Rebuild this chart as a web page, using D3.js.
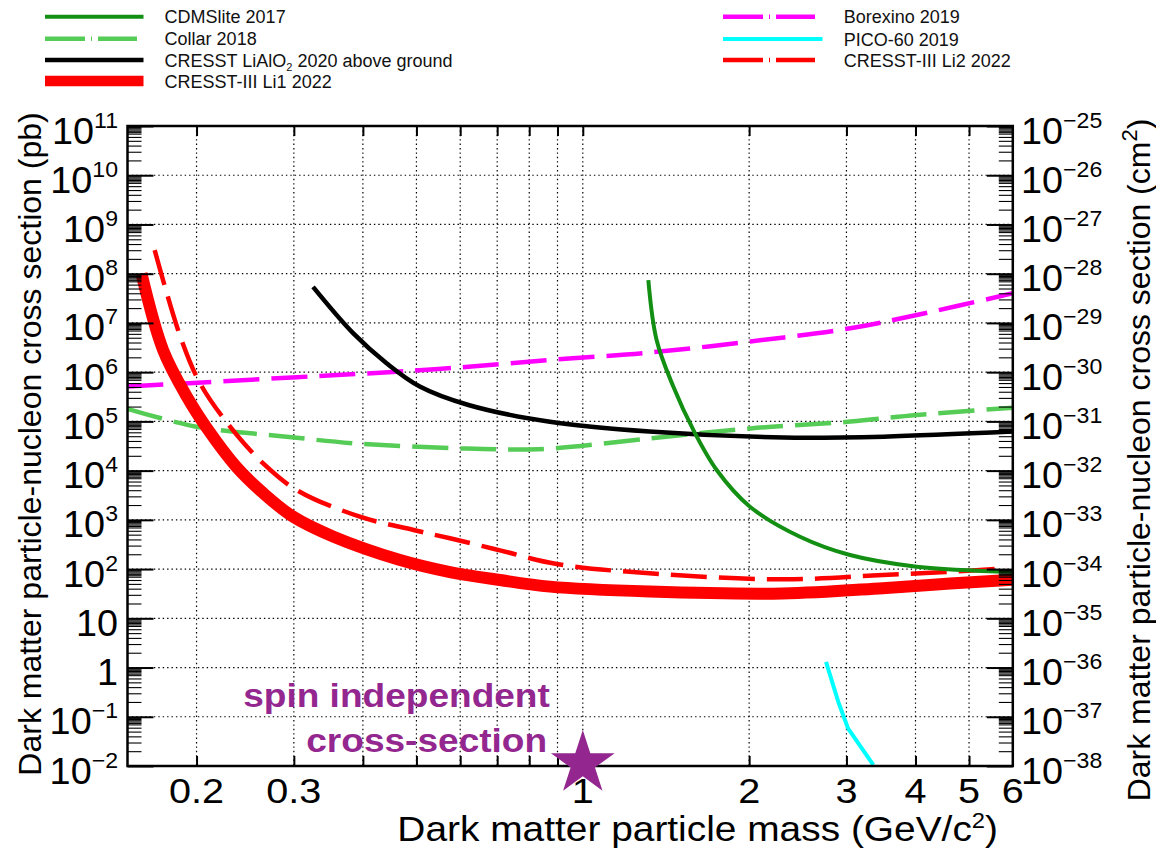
<!DOCTYPE html>
<html>
<head>
<meta charset="UTF-8">
<title>Dark matter cross section limits</title>
<script src="https://cdn.jsdelivr.net/npm/d3@7"></script>
<style>
  body { margin: 0; background: #fff; }
  svg { display: block; font-family: "Liberation Sans", Arial, Helvetica, sans-serif; }
</style>
</head>
<body>
<svg id="chart" width="1156" height="849"></svg>
<script>
// mass in GeV/c^2, cross section in pb
var cdmsMass  = [1.314, 1.36, 1.458, 1.585, 1.747, 2.007, 2.472, 3.045, 4.02, 6.0]
var cdmsSigma = [7.4e7, 4.5e6, 5.1e5, 6.7e4, 1.03e4, 1.85e3, 454, 193, 112, 88]
var collarMass  = [0.15, 0.2, 0.291, 0.384, 0.617, 0.74, 0.872, 1.32, 2.01, 3.05, 4.02, 6.0]
var collarSigma = [1.8e5, 7.8e4, 4.9e4, 3.6e4, 2.8e4, 2.7e4, 2.8e4, 4.5e4, 7.2e4, 9.9e4, 1.35e5, 1.9e5]
var lialoMass  = [0.325, 0.384, 0.442, 0.507, 0.621, 0.872, 1.32, 2.31, 3.5, 6.0]
var lialoSigma = [5.4e7, 6.2e6, 1.5e6, 5.1e5, 2.15e5, 9.8e4, 6.2e4, 4.7e4, 4.9e4, 6.2e4]
var li1Mass  = [0.159, 0.174, 0.192, 0.209, 0.236, 0.264, 0.299, 0.354, 0.467, 0.575, 0.708, 0.872, 1.32, 2.30, 3.49, 4.62, 6.0]
var li1Sigma = [1.0e8, 2.8e6, 3.2e5, 7.2e4, 1.2e4, 3.5e3, 1.16e3, 455, 153, 87, 60, 44, 35, 32, 41, 51, 61]
var borexinoMass  = [0.15, 0.304, 0.461, 0.621, 0.872, 1.32, 2.01, 3.05, 4.02, 6.0]
var borexinoSigma = [5.1e5, 7.9e5, 1.02e6, 1.29e6, 1.77e6, 2.5e6, 4.2e6, 7.8e6, 1.45e7, 4.0e7]
var picoMass  = [2.755, 2.9, 3.02, 3.355]
var picoSigma = [1.3, 0.2, 0.058, 0.0105]
var li2Mass  = [0.168, 0.187, 0.203, 0.23, 0.264, 0.304, 0.395, 0.494, 0.575, 0.708, 0.897, 1.32, 2.31, 3.49, 4.62, 5.85]
var li2Sigma = [3.0e8, 5.2e6, 5.9e5, 7.8e4, 1.4e4, 4.0e3, 1.16e3, 622, 422, 240, 127, 82, 62, 76, 88, 104]

// axes
var xTickLabels = [0.2, 0.3, 1, 2, 3, 4, 5, 6]
var xGridValues = [0.2, 0.3, 0.4, 0.5, 0.6, 0.7, 0.8, 0.9, 1, 2, 3, 4, 5]
var leftExponents = d3.range(-2, 12)     // pb
var rightExponents = d3.range(-38, -24)  // cm^2
var minorSteps = [2, 3, 4, 5, 6, 7, 7.5, 8, 8.5, 9, 9.5]

var legendLeft = ["CDMSlite 2017", "Collar 2018", "CRESST LiAlO2 2020 above ground", "CRESST-III Li1 2022"]
var legendRight = ["Borexino 2019", "PICO-60 2019", "CRESST-III Li2 2022"]
var noteLines = ["spin independent", "cross-section"]
var starPoint = [1, 0.0112]

var purple = "#93278f"
var dashed = "36 12"
var legendDashed = "40 6 1 6"

function zip(m, s) { return m.map(function(d, i) { return [d, s[i]] }) }

// drawing order follows the reference (thin lines over thick ones)
var series = [
  {name: legendRight[0], pts: zip(borexinoMass, borexinoSigma), color: "#ff00ff", width: 4.5, dash: dashed, col: 1, row: 0},
  {name: legendLeft[1], pts: zip(collarMass, collarSigma), color: "#55cc55", width: 4.5, dash: dashed, col: 0, row: 1},
  {name: legendLeft[2], pts: zip(lialoMass, lialoSigma), color: "#000000", width: 4.5, dash: null, col: 0, row: 2},
  {name: legendRight[2], pts: zip(li2Mass, li2Sigma), color: "#ff0000", width: 4.5, dash: dashed, col: 1, row: 2},
  {name: legendLeft[3], pts: zip(li1Mass, li1Sigma), color: "#ff0000", width: 12, legendWidth: 10.7, dash: null, col: 0, row: 3},
  {name: legendLeft[0], pts: zip(cdmsMass, cdmsSigma), color: "#138f13", width: 4, dash: null, col: 0, row: 0},
  {name: legendRight[1], pts: zip(picoMass, picoSigma), color: "#00ffff", width: 4, dash: null, col: 1, row: 1, linear: true}
]

var plot = {left: 127.5, right: 1012.8, top: 126, bottom: 766}
var x = d3.scaleLog().domain([0.15, 6]).range([plot.left, plot.right])
var y = d3.scaleLog().domain([1e-2, 1e11]).range([plot.bottom, plot.top])
var yCm = d3.scaleLog().domain([1e-38, 1e-25]).range([plot.bottom, plot.top])

var svg = d3.select("#chart")
svg.append("rect").attr("width", 1156).attr("height", 849).attr("fill", "#fff")

// dotted grid
var grid = svg.append("g").attr("stroke", "#000").attr("stroke-width", 1.2).attr("stroke-dasharray", "1.4 3")
grid.selectAll("line.gx").data(xGridValues).join("line").attr("class", "gx")
  .attr("x1", function(d) { return x(d) }).attr("x2", function(d) { return x(d) })
  .attr("y1", plot.top).attr("y2", plot.bottom)
grid.selectAll("line.gy").data(leftExponents.slice(1, -1)).join("line").attr("class", "gy")
  .attr("x1", plot.left).attr("x2", plot.right)
  .attr("y1", function(e) { return y(Math.pow(10, e)) }).attr("y2", function(e) { return y(Math.pow(10, e)) })

// curves
svg.append("clipPath").attr("id", "clip").append("rect")
  .attr("x", plot.left).attr("y", plot.top).attr("width", plot.right - plot.left).attr("height", plot.bottom - plot.top)
var curves = svg.append("g").attr("clip-path", "url(#clip)")
series.forEach(function(s) {
  var line = d3.line().x(function(d) { return x(d[0]) }).y(function(d) { return y(d[1]) })
    .curve(s.linear ? d3.curveLinear : d3.curveCatmullRom.alpha(0.5))
  curves.append("path").attr("d", line(s.pts)).attr("fill", "none")
    .attr("stroke", s.color).attr("stroke-width", s.width)
    .attr("stroke-dasharray", s.dash).attr("stroke-linejoin", "round")
})

// ticks, all pointing into the frame
function ticks(axisFn, scale, values, size, transform, width) {
  var g = svg.append("g").attr("transform", transform)
    .call(axisFn(scale).tickValues(values).tickSize(-size).tickSizeOuter(0).tickFormat(""))
  g.select(".domain").remove()
  g.selectAll("line").attr("stroke", "#000").attr("stroke-width", width)
}
var majors = leftExponents.map(function(e) { return Math.pow(10, e) })
var minors = []
leftExponents.slice(0, -1).forEach(function(e) {
  minorSteps.forEach(function(k) { minors.push(k * Math.pow(10, e)) })
})
var majorsCm = rightExponents.map(function(e) { return Math.pow(10, e) })
var minorsCm = []
rightExponents.slice(0, -1).forEach(function(e) {
  minorSteps.forEach(function(k) { minorsCm.push(k * Math.pow(10, e)) })
})
ticks(d3.axisLeft, y, minors, 14, "translate(" + plot.left + ",0)", 1.1)
ticks(d3.axisLeft, y, majors, 26, "translate(" + plot.left + ",0)", 2)
ticks(d3.axisRight, yCm, minorsCm, 14, "translate(" + plot.right + ",0)", 1.1)
ticks(d3.axisRight, yCm, majorsCm, 26, "translate(" + plot.right + ",0)", 2)
ticks(d3.axisBottom, x, xGridValues, 10, "translate(0," + plot.bottom + ")", 2)
ticks(d3.axisTop, x, xGridValues, 10, "translate(0," + plot.top + ")", 2)

svg.append("rect").attr("x", plot.left).attr("y", plot.top)
  .attr("width", plot.right - plot.left).attr("height", plot.bottom - plot.top)
  .attr("fill", "none").attr("stroke", "#000").attr("stroke-width", 2.5)

// tick labels
var sx = 1.05
function powerLabel(t, e) {
  if (e === 0) { t.text("1"); return }
  if (e === 1) { t.text("10"); return }
  t.append("tspan").text("10")
  t.append("tspan").attr("font-size", 22).attr("dy", -16).text(String(e).replace("-", "\u2212"))
}
svg.append("g").selectAll("text").data(leftExponents).join("text")
  .attr("transform", function(e) { return "translate(118," + (y(Math.pow(10, e)) + 17.5) + ") scale(" + sx + ",1)" })
  .attr("text-anchor", "end").attr("font-size", 36)
  .each(function(e) { powerLabel(d3.select(this), e) })
svg.append("g").selectAll("text").data(rightExponents).join("text")
  .attr("transform", function(e) { return "translate(1021," + (yCm(Math.pow(10, e)) + 17.5) + ") scale(" + sx + ",1)" })
  .attr("text-anchor", "start").attr("font-size", 36)
  .each(function(e) { powerLabel(d3.select(this), e) })
svg.append("g").selectAll("text").data(xTickLabels).join("text")
  .attr("transform", function(d) { return "translate(" + x(d) + "," + (plot.bottom + 37) + ") scale(1.1,1)" })
  .attr("text-anchor", "middle").attr("font-size", 36)
  .text(function(d) { return d })

// axis titles
var xt = svg.append("text").attr("transform", "translate(998,841) scale(1.08,1)")
  .attr("text-anchor", "end").attr("font-size", 36)
xt.append("tspan").text("Dark matter particle mass (GeV/c")
xt.append("tspan").attr("font-size", 22).attr("dy", -13).text("2")
xt.append("tspan").attr("dy", 13).text(")")

svg.append("text").attr("transform", "translate(41,444) rotate(-90)")
  .attr("text-anchor", "middle").attr("font-size", 32)
  .text("Dark matter particle-nucleon cross section (pb)")
var yt = svg.append("text").attr("transform", "translate(1150,460) rotate(-90)")
  .attr("text-anchor", "middle").attr("font-size", 32)
yt.append("tspan").text("Dark matter particle-nucleon cross section (cm")
yt.append("tspan").attr("font-size", 22).attr("dy", -13).text("2")
yt.append("tspan").attr("dy", 13).text(")")

// annotation
svg.append("g").selectAll("text").data(noteLines).join("text")
  .attr("transform", function(d, i) { return i === 0 ? "translate(396.5,706.7) scale(1.09,1)" : "translate(426.7,751.7) scale(1.09,1)" })
  .attr("text-anchor", "middle").attr("font-size", 34).attr("font-weight", "bold").attr("fill", purple)
  .text(function(d) { return d })
svg.append("path").attr("d", d3.symbol().type(d3.symbolStar).size(1260)())
  .attr("transform", "translate(" + x(starPoint[0]) + "," + y(starPoint[1]) + ")")
  .attr("fill", purple)

// legend
var legendX = [45, 723], textX = [164.6, 843.8]
var legendRows = [[16.7, 38.7, 60, 81], [16.7, 39, 60]]
var legend = svg.append("g")
series.forEach(function(s) {
  var ly = legendRows[s.col][s.row]
  var len = s.dash ? 92 : (s.col === 1 ? 99.5 : 98.5)
  legend.append("line").attr("x1", legendX[s.col]).attr("x2", legendX[s.col] + len)
    .attr("y1", ly).attr("y2", ly).attr("stroke", s.color)
    .attr("stroke-width", s.legendWidth || s.width).attr("stroke-dasharray", s.dash ? legendDashed : null)
  var t = legend.append("text").attr("x", textX[s.col]).attr("y", ly + 6.5)
    .attr("font-size", 18).attr("fill", "#111")
  if (s.name.indexOf("LiAlO2") >= 0) {
    t.append("tspan").text("CRESST LiAlO")
    t.append("tspan").attr("font-size", 11).attr("dy", 4).text("2")
    t.append("tspan").attr("dy", -4).text(" 2020 above ground")
  } else {
    t.text(s.name)
  }
})
</script>
</body>
</html>
